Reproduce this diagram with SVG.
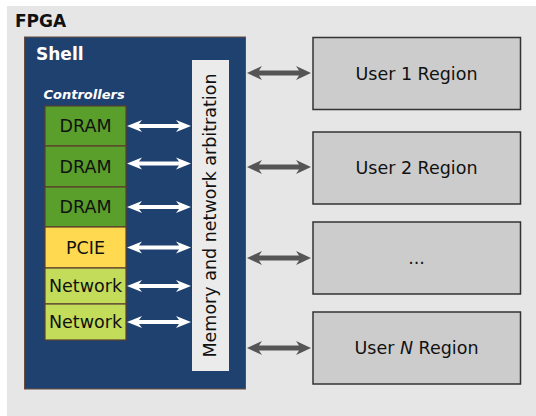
<svg xmlns="http://www.w3.org/2000/svg" xmlns:xlink="http://www.w3.org/1999/xlink" width="536" height="416" viewBox="0 0 536 416">
<style>
text{font-family:"DejaVu Sans",Verdana,sans-serif;}
.lbl{font-size:17.5px;fill:#111;text-anchor:middle;}
.ctl{stroke:#5c3f2e;stroke-width:1.2;}
.dram{fill:#5a9e2b;}
.pcie{fill:#ffd94f;}
.net{fill:#c3dc5a;}
.user{fill:#cccccc;stroke:#333;stroke-width:1.5;}
.warr{fill:#fff;}
.garr{fill:#555;}
</style>
<defs>
<polygon id="wa" points="-32,0 -17,-6 -20,-2 20,-2 17,-6 32,0 17,6 20,2 -20,2 -17,6"/>
<polygon id="ga" points="-32,0 -17,-7 -20,-2.5 20,-2.5 17,-7 32,0 17,7 20,2.5 -20,2.5 -17,7"/>
</defs>
<rect x="0" y="0" width="536" height="416" fill="#fff"/>
<g id="fpga">
<rect x="7" y="6" width="529" height="410" fill="#e6e6e6"/>
<text x="15" y="27" font-size="17px" font-weight="bold" fill="#111">FPGA</text>
</g>
<g id="shell">
<rect x="24.5" y="37" width="221" height="352" fill="#1f4170" stroke="#6b4a3a" stroke-width="1"/>
<text x="36" y="60" font-size="17px" font-weight="bold" fill="#fff">Shell</text>
<text x="43.5" y="99" font-size="13px" font-weight="bold" font-style="italic" fill="#fff">Controllers</text>
</g>
<g id="dram1"><rect class="ctl dram" x="45" y="106" width="81" height="40"/><text class="lbl" x="85.5" y="132.3">DRAM</text></g>
<g id="dram2"><rect class="ctl dram" x="45" y="146" width="81" height="41"/><text class="lbl" x="85.5" y="172.8">DRAM</text></g>
<g id="dram3"><rect class="ctl dram" x="45" y="187" width="81" height="40"/><text class="lbl" x="85.5" y="213.3">DRAM</text></g>
<g id="pcie"><rect class="ctl pcie" x="45" y="227" width="81" height="41"/><text class="lbl" x="85.5" y="253.8">PCIE</text></g>
<g id="net1"><rect class="ctl net" x="45" y="268" width="81" height="36"/><text class="lbl" x="85.5" y="292.3">Network</text></g>
<g id="net2"><rect class="ctl net" x="45" y="304" width="81" height="36"/><text class="lbl" x="85.5" y="328.3">Network</text></g>
<g id="arbitration">
<rect x="192" y="60" width="37" height="311" fill="#ebebeb"/>
<text class="lbl" transform="translate(216,215.5) rotate(-90)" x="0" y="0">Memory and network arbitration</text>
</g>
<g id="user1"><rect class="user" x="313" y="37.5" width="207.5" height="72"/><text class="lbl" x="416.5" y="79.5">User 1 Region</text></g>
<g id="user2"><rect class="user" x="313" y="132" width="207.5" height="72"/><text class="lbl" x="416.5" y="174">User 2 Region</text></g>
<g id="userdots"><rect class="user" x="313" y="222" width="207.5" height="72"/><text class="lbl" x="416.5" y="264">...</text></g>
<g id="userN"><rect class="user" x="313" y="312" width="207.5" height="72"/><text class="lbl" x="416.5" y="354">User <tspan font-style="italic">N</tspan> Region</text></g>
<g id="connectors">
<use xlink:href="#wa" class="warr" transform="translate(159,126)"/>
<use xlink:href="#wa" class="warr" transform="translate(159,163.5)"/>
<use xlink:href="#wa" class="warr" transform="translate(159,207)"/>
<use xlink:href="#wa" class="warr" transform="translate(159,247.5)"/>
<use xlink:href="#wa" class="warr" transform="translate(159,286)"/>
<use xlink:href="#wa" class="warr" transform="translate(159,322)"/>
<use xlink:href="#ga" class="garr" transform="translate(279,73)"/>
<use xlink:href="#ga" class="garr" transform="translate(279,167)"/>
<use xlink:href="#ga" class="garr" transform="translate(279,258)"/>
<use xlink:href="#ga" class="garr" transform="translate(279,348)"/>
</g>
</svg>
